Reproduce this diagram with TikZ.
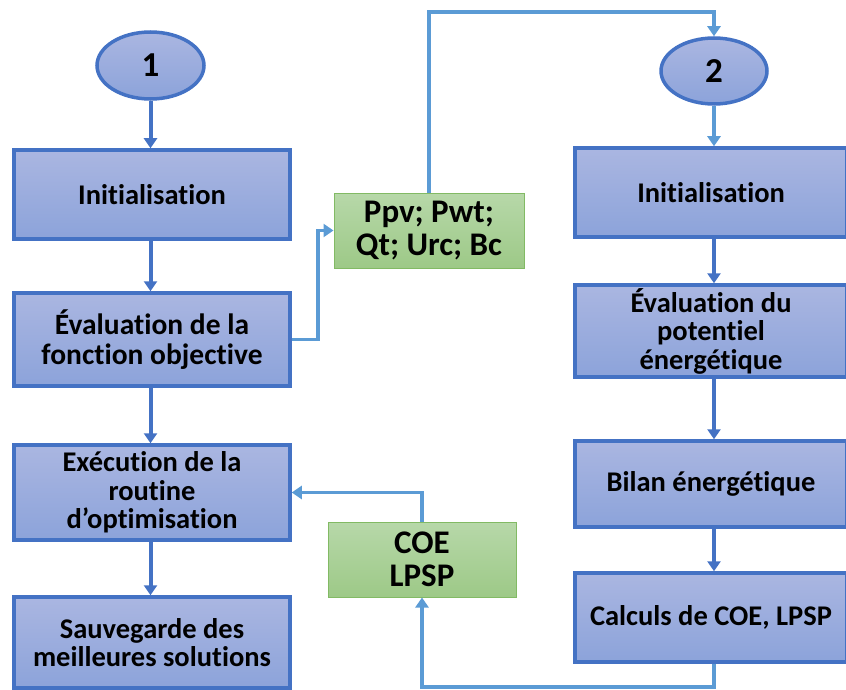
\documentclass[tikz,border=0pt]{standalone}
\usepackage{fontspec}
\setmainfont{Carlito}[Ligatures=NoCommon]
\usetikzlibrary{shapes.geometric,arrows.meta,calc}
\definecolor{dblue}{RGB}{68,114,196}
\definecolor{lblue}{RGB}{91,155,213}
\definecolor{btop}{RGB}{170,182,225}
\definecolor{bbot}{RGB}{140,163,218}
\definecolor{gtop}{RGB}{183,216,169}
\definecolor{gbot}{RGB}{157,201,135}
\definecolor{gline}{RGB}{130,186,100}
\tikzset{
  bluebox/.style={draw=dblue, line width=3.5pt, top color=btop, bottom color=bbot, align=center, inner sep=2pt,
    font=\fontsize{28.5}{28.5}\selectfont\bfseries},
  bigtext/.style={font=\fontsize{29.5}{29.5}\selectfont\bfseries},
  greenbox/.style={draw=gline, line width=1pt, top color=gtop, bottom color=gbot, align=center, inner sep=2pt,
    font=\fontsize{33}{33}\selectfont\bfseries},
  oval/.style={ellipse, draw=dblue, line width=3.5pt, top color=btop, bottom color=bbot, inner sep=0pt,
    font=\fontsize{35}{36}\selectfont\bfseries},
  darr/.style={draw=dblue, line width=4pt, -{Triangle[length=10pt,width=13pt]}},
  larr/.style={draw=lblue, line width=3.5pt, -{Triangle[length=10pt,width=13pt]}},
}
\begin{document}
\begin{tikzpicture}[x=1pt,y=-1pt]
\useasboundingbox (0,0) rectangle (846,690);
% left column
\node[oval, minimum width=107pt, minimum height=67pt] (e1) at (150.5,65.5) {1};
\node[bluebox, minimum width=276pt, minimum height=89pt] (iL) at (152,194.5) {Initialisation};
\node[bluebox, bigtext, minimum width=276pt, minimum height=93pt] (eL) at (152,339.5) {Évaluation de la\\fonction objective};
\node[bluebox, minimum width=276pt, minimum height=95pt] (xL) at (152,492.5) {Exécution de la\\routine\\d’optimisation};
\node[bluebox, minimum width=276pt, minimum height=91pt] (sL) at (152,642.5) {Sauvegarde des\\meilleures solutions};
% right column
\node[oval, minimum width=106pt, minimum height=66pt] (e2) at (714,71) {2};
\node[bluebox, minimum width=272pt, minimum height=89pt] (iR) at (711,192.5) {Initialisation};
\node[bluebox, minimum width=272pt, minimum height=92pt] (eR) at (711,331) {Évaluation du\\potentiel\\énergétique};
\node[bluebox, minimum width=272pt, minimum height=86pt] (bR) at (711,484) {Bilan énergétique};
\node[bluebox, minimum width=272pt, minimum height=89pt] (cR) at (711,617.5) {Calculs de COE, LPSP};
% green boxes
\node[greenbox, minimum width=190pt, minimum height=75pt] (g1) at (429,230.5) {Ppv; Pwt;\\Qt; Urc; Bc};
\node[greenbox, minimum width=188pt, minimum height=75pt] (coe) at (422,559.5) {COE\\LPSP};
% helper coordinates
\coordinate (top) at (0,12);
\coordinate (bot) at (0,687);
% left arrows
\draw[darr] (e1.south) -- (e1.south |- iL.north);
\draw[darr] (iL.south -| e1.south) -- (e1.south |- eL.north);
\draw[darr] (eL.south -| e1.south) -- (e1.south |- xL.north);
\draw[darr] (xL.south -| e1.south) -- (e1.south |- sL.north);
% right arrows
\draw[larr] (e2.south) -- (e2.south |- iR.north);
\draw[darr] (iR.south -| e2.south) -- (e2.south |- eR.north);
\draw[darr] (eR.south -| e2.south) -- (e2.south |- bR.north);
\draw[darr] (bR.south -| e2.south) -- (e2.south |- cR.north);
% cross connections
\draw[larr] (eL.east) -- ++(26,0) |- (g1.west);
\draw[larr] (g1.north) -- (g1.north |- top) -| (e2.north);
\draw[larr] (cR.south -| e2.south) -- (e2.south |- bot) -| (coe.south);
\draw[larr] (coe.north) |- (xL.east);
\end{tikzpicture}
\end{document}
